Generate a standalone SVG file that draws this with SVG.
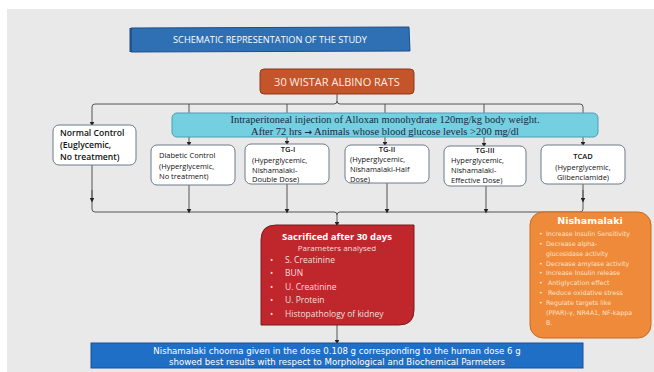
<svg xmlns="http://www.w3.org/2000/svg" width="654" height="372" viewBox="0 0 654 372">
<defs>
<marker id="ah" viewBox="0 0 6 6" refX="3" refY="3" markerWidth="5" markerHeight="5" orient="auto"><path d="M0,0 L6,3 L0,6 z" fill="#222"/></marker>
<style>
.ln{fill:none;stroke:#555;stroke-width:1}
.wb{fill:#fff;stroke:#6f7a8a;stroke-width:1}
.s{font-family:"Open Sans","Liberation Sans",sans-serif}
.blk{fill:#111}
.sr{font-family:"Liberation Serif",serif;font-size:10.5px;fill:#1a2a40}
.v{font-family:"DejaVu Sans","Liberation Sans",sans-serif}
</style>
</defs>
<rect x="0" y="0" width="654" height="372" fill="#fff"/>
<rect x="7" y="9" width="647" height="363" fill="#e9e9e9"/>

<g id="title">
<path d="M131,28 L409,27 L410,51 L131,52 z" fill="#2f6fb3" stroke="#1f4f8a" stroke-width="1"/>
<rect x="129.5" y="28" width="2" height="24" fill="#1f4f8a"/>
<text x="270" y="43" class="s" font-size="9.2" fill="#fff" text-anchor="middle">SCHEMATIC REPRESENTATION OF THE STUDY</text>
</g>

<g id="connectors">
<path class="ln" d="M337,94 L337,101 Q337,104 334,104 L95,104 Q92,104 92,107 L92,124" marker-end="url(#ah)"/>
<path class="ln" d="M337,101 Q337,104 340,104 L580,104 Q583,104 583,107 L583,144" marker-end="url(#ah)"/>
<path class="ln" d="M189,104 L189,144" marker-end="url(#ah)"/>
<path class="ln" d="M287,104 L287,143" marker-end="url(#ah)"/>
<path class="ln" d="M385,104 L385,144" marker-end="url(#ah)"/>
<path class="ln" d="M484,104 L484,145" marker-end="url(#ah)"/>
<path class="ln" d="M92,165 L92,209 Q92,212 95,212 L334,212 Q337,212 337,215 L337,224" marker-end="url(#ah)"/>
<path class="ln" d="M337,215 Q337,212 340,212 L580,212 Q583,212 583,209 L583,184"/>
<path class="ln" d="M92,190 L92,200" marker-end="url(#ah)"/>
<path class="ln" d="M583,190 L583,200" marker-end="url(#ah)"/>
<path class="ln" d="M189,185 L189,211" marker-end="url(#ah)"/>
<path class="ln" d="M287,184 L287,211" marker-end="url(#ah)"/>
<path class="ln" d="M387,183 L387,211" marker-end="url(#ah)"/>
<path class="ln" d="M486,186 L486,211" marker-end="url(#ah)"/>
<path class="ln" d="M337,325 L337,342" marker-end="url(#ah)"/>
</g>

<g id="rats">
<rect x="260" y="69" width="154" height="25" rx="4" fill="#c4542a" stroke="#8a3a1c" stroke-width="1"/>
<text x="337" y="85.5" class="s" font-size="11" fill="#fbeee0" text-anchor="middle">30 WISTAR ALBINO RATS</text>
</g>

<g id="alloxan">
<rect x="172" y="113" width="426" height="24" rx="5" fill="#74cfe1" stroke="#4a9fb5" stroke-width="1"/>
<text x="385" y="123" class="sr" text-anchor="middle">Intraperitoneal injection of Alloxan monohydrate 120mg/kg body weight.</text>
<text x="385" y="135" class="sr" text-anchor="middle">After 72 hrs <tspan font-family="DejaVu Sans,sans-serif" font-weight="700" font-size="9">→</tspan> Animals whose blood glucose levels &gt;200 mg/dl</text>
</g>

<g id="normal">
<rect class="wb" x="53" y="125" width="83" height="40" rx="6"/>
<text class="s" fill="#111" font-size="8.6" font-weight="600"><tspan x="60" y="136">Normal Control</tspan><tspan x="60" y="148">(Euglycemic,</tspan><tspan x="60" y="160">No treatment)</tspan></text>
</g>

<g id="diabetic">
<rect class="wb" x="151" y="145" width="84" height="40" rx="6"/>
<text class="s" fill="#111" font-size="7.5"><tspan x="159" y="158">Diabetic Control</tspan><tspan x="159" y="169">(Hyperglycemic,</tspan><tspan x="159" y="179">No treatment)</tspan></text>
</g>

<g id="tg1">
<rect class="wb" x="245" y="144" width="84" height="40" rx="6"/>
<text class="s" fill="#111" font-size="7.5"><tspan x="288" y="152" text-anchor="middle" font-weight="600">TG-I</tspan><tspan x="252" y="163">(Hyperglycemic,</tspan><tspan x="252" y="173">Nishamalaki-</tspan><tspan x="252" y="182">Double Dose)</tspan></text>
</g>

<g id="tg2">
<rect class="wb" x="345" y="145" width="84" height="38" rx="6"/>
<text class="s" fill="#111" font-size="7.5"><tspan x="387" y="152" text-anchor="middle" font-weight="600">TG-II</tspan><tspan x="350" y="162">(Hyperglycemic,</tspan><tspan x="350" y="172">Nishamalaki-Half</tspan><tspan x="350" y="182">Dose)</tspan></text>
</g>

<g id="tg3">
<rect class="wb" x="444" y="146" width="82" height="40" rx="6"/>
<text class="s" fill="#111" font-size="7.5"><tspan x="485" y="153" text-anchor="middle" font-weight="600">TG-III</tspan><tspan x="451" y="163">Hyperglycemic,</tspan><tspan x="451" y="173">Nishamalaki-</tspan><tspan x="451" y="183">Effective Dose)</tspan></text>
</g>

<g id="tcad">
<rect class="wb" x="541" y="145" width="84" height="39" rx="6"/>
<text class="s" fill="#111" font-size="7.5" text-anchor="middle"><tspan x="583" y="159" font-weight="600">TCAD</tspan><tspan x="583" y="170">(Hyperglycemic,</tspan><tspan x="583" y="180">Glibenclamide)</tspan></text>
</g>

<g id="sacrificed">
<path d="M276,225 L414,225 L414,310 Q414,325 399,325 L261,325 L261,240 Q261,225 276,225 z" fill="#c0272d" stroke="#7a1a1e" stroke-width="1"/>
<text x="337" y="240" class="s" font-size="9.5" font-weight="700" fill="#fff" text-anchor="middle">Sacrificed after 30 days</text>
<text x="337" y="251" class="s" font-size="8" fill="#f6dede" text-anchor="middle">Parameters analysed</text>
<g class="s" font-size="8.5" fill="#f6dede">
<text x="270" y="263">•</text><text x="285" y="263">S. Creatinine</text>
<text x="270" y="276">•</text><text x="285" y="276">BUN</text>
<text x="270" y="290">•</text><text x="285" y="290">U. Creatinine</text>
<text x="270" y="303">•</text><text x="285" y="303">U. Protein</text>
<text x="270" y="317">•</text><text x="285" y="317">Histopathology of kidney</text>
</g>
</g>

<g id="nishamalaki">
<rect x="530" y="212" width="121" height="126" rx="13" fill="#ee8a3a" stroke="#c96a20" stroke-width="1"/>
<text x="590" y="224" class="v" font-size="9.5" font-weight="700" fill="#fff" text-anchor="middle">Nishamalaki</text>
<g class="v" font-size="6.3" fill="#fde3c8">
<text x="539" y="236">•</text><text x="546" y="236">Increase Insulin Sensitivity</text>
<text x="539" y="246">•</text><text x="546" y="246">Decrease alpha-</text>
<text x="546" y="256">glucosidase activity</text>
<text x="539" y="266">•</text><text x="546" y="266">Decrease amylase activity</text>
<text x="539" y="275">•</text><text x="546" y="275">Increase Insulin release</text>
<text x="539" y="285">•</text><text x="548" y="285">Antiglycation effect</text>
<text x="539" y="295">•</text><text x="548" y="295">Reduce oxidative stress</text>
<text x="539" y="305">•</text><text x="546" y="305">Regulate targets like</text>
<text x="546" y="315">(PPAR)-γ, NR4A1, NF-kappa</text>
<text x="546" y="325">B.</text>
</g>
</g>

<g id="result">
<rect x="91" y="343" width="492" height="25" fill="#1f6fc6" stroke="#16509a" stroke-width="1"/>
<text x="337" y="354" class="v" font-size="8.6" fill="#fff" text-anchor="middle">Nishamalaki choorna given in the dose 0.108 g corresponding to the human dose 6 g</text>
<text x="337" y="365" class="v" font-size="8.6" fill="#fff" text-anchor="middle">showed best results with respect to Morphological and Biochemical Parmeters</text>
</g>
</svg>
